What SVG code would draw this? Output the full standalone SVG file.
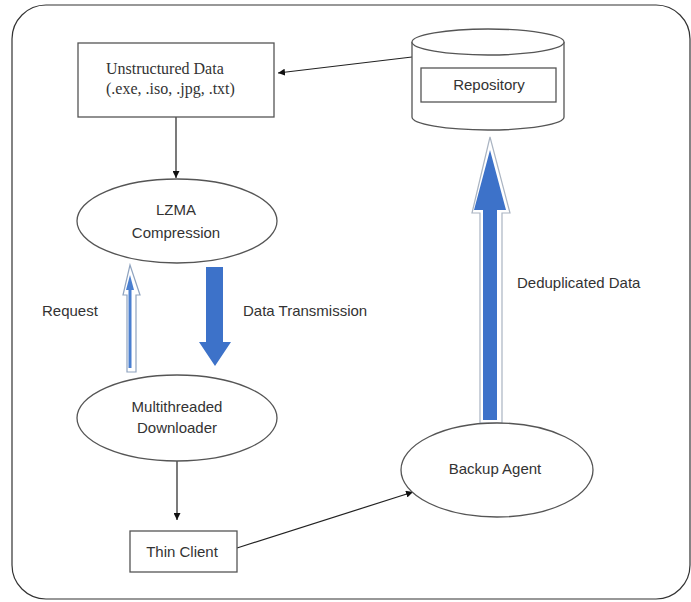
<svg xmlns="http://www.w3.org/2000/svg" width="691" height="602" viewBox="0 0 691 602">
<defs>
<marker id="ah" viewBox="0 0 10 10" refX="10" refY="5" markerWidth="7" markerHeight="7" orient="auto" markerUnits="userSpaceOnUse">
<path d="M0,0 L10,5 L0,10 z" fill="#111"/>
</marker>
<style>
.shape{fill:#fff;stroke:#555;stroke-width:1.3}
.conn{fill:none;stroke:#222;stroke-width:1.2}
.sans{font-family:"Liberation Sans",Arial,sans-serif;font-size:15px;fill:#333;text-anchor:middle}
.lbl{font-family:"Liberation Sans",Arial,sans-serif;font-size:15px;fill:#333}
.serif{font-family:"Liberation Serif","Times New Roman",serif;font-size:16px;fill:#333}
</style>
</defs>
<rect x="0" y="0" width="691" height="602" fill="#fff"/>
<rect x="12" y="5" width="678" height="594" rx="34" ry="34" fill="#fff" stroke="#333" stroke-width="1.2"/>

<g id="connectors">
<line class="conn" x1="412" y1="57" x2="278" y2="73" marker-end="url(#ah)"/>
<line class="conn" x1="176" y1="117" x2="176" y2="178" marker-end="url(#ah)"/>
<line class="conn" x1="177" y1="461" x2="177" y2="520" marker-end="url(#ah)"/>
<line class="conn" x1="237" y1="548" x2="413" y2="492" marker-end="url(#ah)"/>
<g id="request-arrow">
<path d="M130,265 L140,295 L136,295 L136,372 L127,372 L127,295 L123,295 Z" fill="#fff" stroke="#8fa3bf" stroke-width="1.2"/>
<path d="M130,275 L134,290 L131.5,290 L131.5,368 L128.5,368 L128.5,290 L126,290 Z" fill="#4a7fd0"/>
</g>
<g id="transmission-arrow">
<path d="M206,267 L223,267 L223,342 L231,342 L215,366 L199,342 L206,342 Z" fill="#3d72c9"/>
</g>
<g id="dedup-arrow">
<path d="M490,137 L510,213 L502,213 L502,423 L480,423 L480,213 L472,213 Z" fill="#fff" stroke="#aab4c2" stroke-width="1.2"/>
<path d="M490,150 L506,210 L497,210 L497,420 L483,420 L483,210 L474,210 Z" fill="#3d72c9"/>
</g>
</g>

<g id="unstructured">
<rect class="shape" x="78" y="43" width="196" height="74"/>
<text class="serif" x="106" y="74">Unstructured Data</text>
<text class="serif" x="106" y="94">(.exe, .iso, .jpg, .txt)</text>
</g>

<g id="repository">
<path class="shape" d="M412,42 L412,117 A76,13 0 0 0 564,117 L564,42"/>
<ellipse class="shape" cx="488" cy="42" rx="76" ry="13"/>
<rect class="shape" x="421" y="68" width="135" height="34"/>
<text class="sans" x="489" y="90">Repository</text>
</g>

<g id="lzma">
<ellipse class="shape" cx="177" cy="221" rx="100" ry="42"/>
<text class="sans" x="176" y="215">LZMA</text>
<text class="sans" x="176" y="238">Compression</text>
</g>

<g id="downloader">
<ellipse class="shape" cx="177" cy="418" rx="100" ry="43"/>
<text class="sans" x="177" y="412">Multithreaded</text>
<text class="sans" x="177" y="433">Downloader</text>
</g>

<g id="thinclient">
<rect class="shape" x="130" y="531" width="107" height="41"/>
<text class="sans" x="182" y="557">Thin Client</text>
</g>

<g id="backup">
<ellipse class="shape" cx="497" cy="470" rx="96" ry="47"/>
<text class="sans" x="495" y="474">Backup Agent</text>
</g>

<g id="labels">
<text class="lbl" x="42" y="316">Request</text>
<text class="lbl" x="243" y="316">Data Transmission</text>
<text class="lbl" x="517" y="288">Deduplicated Data</text>
</g>
</svg>
